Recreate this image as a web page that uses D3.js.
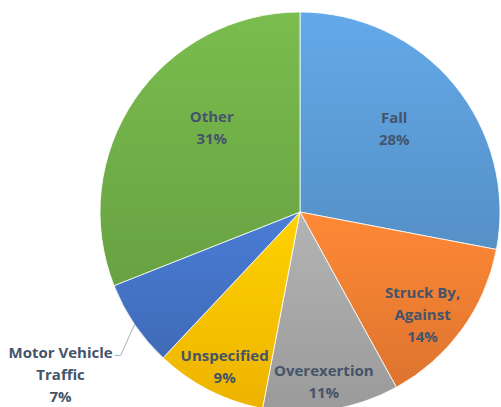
<!DOCTYPE html>
<html lang="en">
<head>
<meta charset="utf-8">
<title>Injury causes</title>
<script src="https://cdn.jsdelivr.net/npm/d3@7"></script>
<style>
  body { margin: 0; background: #fff; }
  .lbl { font-family: "Open Sans", sans-serif; font-weight: bold; font-size: 15px; fill: #44546A; }
</style>
</head>
<body>
<script>
var categories = ["Fall", "Struck By, Against", "Overexertion", "Unspecified", "Motor Vehicle Traffic", "Other"];
var values = [28, 14, 11, 9, 7, 31];
var labelLines = [["Fall"], ["Struck By,", "Against"], ["Overexertion"], ["Unspecified"], ["Motor Vehicle", "Traffic"], ["Other"]];

var colors = ["#5B9BD5", "#ED7D31", "#A5A5A5", "#FFC000", "#4472C4", "#70AD47"];
// label placement: radius and angle nudge (deg); null radius = outside label
var labelR = [126, 160, 171, 172, null, 122];
var labelNudge = [-2, 4, 1, -1, 0, 9.5];

var w = 501, h = 407;
var cx = 300, cy = 212, r = 200;

var svg = d3.select("body").append("svg")
  .attr("width", w).attr("height", h);

var defs = svg.append("defs");
colors.forEach(function (c, i) {
  var g = defs.append("linearGradient")
    .attr("id", "grad" + i)
    .attr("x1", 0).attr("y1", 0).attr("x2", 0).attr("y2", 1);
  g.append("stop").attr("offset", "0%").attr("stop-color", d3.color(c).brighter(0.25));
  g.append("stop").attr("offset", "100%").attr("stop-color", d3.color(c).darker(0.2));
});

var pie = d3.pie().sort(null).value(function (d) { return d; });
var arcs = pie(values);
var arc = d3.arc().innerRadius(0).outerRadius(r);

var g = svg.append("g").attr("transform", "translate(" + cx + "," + cy + ")");

g.selectAll("path.slice")
  .data(arcs)
  .enter().append("path")
  .attr("class", "slice")
  .attr("d", arc)
  .attr("fill", function (d, i) { return "url(#grad" + i + ")"; })
  .attr("stroke", "#fff")
  .attr("stroke-width", 0.8);

function pt(angle, rad) {
  return [rad * Math.sin(angle), -rad * Math.cos(angle)];
}

arcs.forEach(function (d, i) {
  var mid = (d.startAngle + d.endAngle) / 2;
  var lines = labelLines[i].concat([d3.format(".0f")(d.value) + "%"]);
  var x, y;
  if (labelR[i] != null) {
    var p = pt(mid + labelNudge[i] * Math.PI / 180, labelR[i]);
    x = p[0]; y = p[1];
  } else {
    // outside label with leader line
    var e = pt(mid, r);
    var k = [e[0] - 14, e[1] + 31];
    g.append("polyline")
      .attr("points", [e, k, [k[0] - 6, k[1]]].map(function (q) { return q.join(","); }).join(" "))
      .attr("fill", "none")
      .attr("stroke", "#A6AEBB")
      .attr("stroke-width", 1);
    x = k[0] - 60; y = k[1] + 19;
  }
  var lh = 22;
  var t = g.append("text").attr("class", "lbl")
    .attr("text-anchor", "middle");
  lines.forEach(function (s, j) {
    t.append("tspan")
      .attr("x", x)
      .attr("y", y + (j - (lines.length - 1) / 2) * lh)
      .attr("dy", "0.35em")
      .text(s);
  });
});
</script>
</body>
</html>
